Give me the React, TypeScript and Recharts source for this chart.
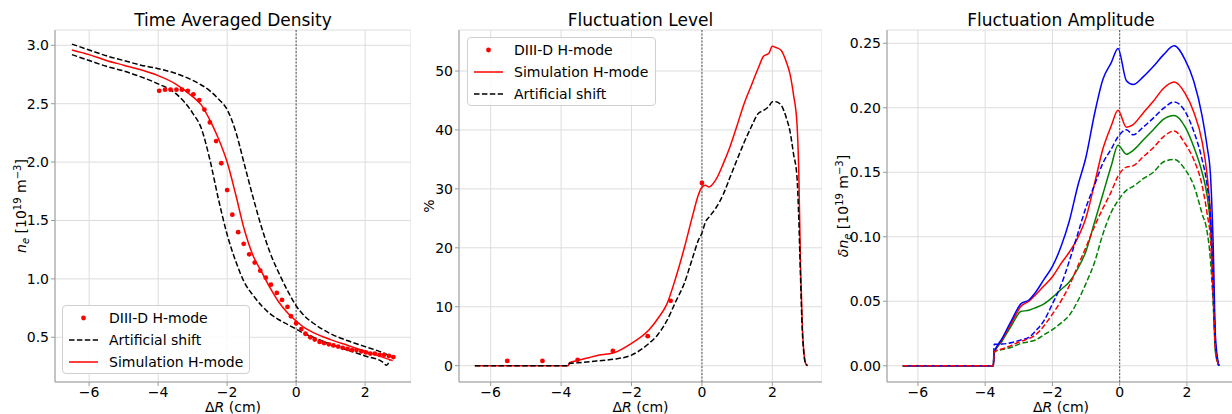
import type { ReactNode } from "react";
import { ComposedChart, Line, XAxis, YAxis, CartesianGrid, ReferenceLine } from "recharts";

const FONT = '"DejaVu Sans", "Liberation Sans", sans-serif';
const RED = "#ff0000";
const BLUE = "#0000ff";
const GREEN = "#008000";
const BLACK = "#000000";
const GRID = "#dddddd";
const SPINE = "#9a9a9a";
const DASH = "5.5 2.4";

const xTicks = [-6, -4, -2, 0, 2];

// --- Time Averaged Density ---
const densX = [-6.5, -6, -5.5, -5, -4.5, -4, -3.5, -3, -2.75, -2.5, -2.25, -2, -1.75, -1.5, -1.25, -1, -0.75, -0.5, -0.25, 0, 0.25, 0.5, 1, 1.5, 2, 2.5, 2.62, 2.72, 2.8];
const densSim = [2.96, 2.92, 2.87, 2.83, 2.79, 2.74, 2.67, 2.56, 2.49, 2.36, 2.2, 2.0, 1.72, 1.42, 1.2, 1.06, 0.92, 0.8, 0.71, 0.64, 0.58, 0.54, 0.48, 0.43, 0.38, 0.33, null, null, 0.3];
const densShiftOut = [3.01, 2.96, 2.91, 2.87, 2.83, 2.8, 2.76, 2.7, 2.66, 2.61, 2.54, 2.45, 2.26, 1.98, 1.7, 1.44, 1.22, 1.05, 0.9, 0.77, 0.68, 0.62, 0.53, 0.47, 0.42, 0.37, null, null, 0.33];
const densShiftIn = [2.92, 2.87, 2.82, 2.78, 2.73, 2.67, 2.59, 2.42, 2.29, 2.02, 1.68, 1.38, 1.15, 0.97, 0.86, 0.77, 0.7, 0.65, 0.61, 0.57, 0.53, 0.5, 0.44, 0.39, 0.34, 0.29, 0.26, 0.31, null];
const densExpX = [-3.97, -3.8, -3.64, -3.47, -3.31, -3.14, -2.98, -2.81, -2.66, -2.5, -2.32, -2.17, -2.0, -1.85, -1.68, -1.52, -1.36, -1.2, -1.04, -0.88, -0.73, -0.56, -0.41, -0.25, -0.15, 0.0, 0.15, 0.27, 0.41, 0.54, 0.68, 0.81, 0.95, 1.08, 1.22, 1.35, 1.49, 1.62, 1.75, 1.89, 2.02, 2.15, 2.28, 2.42, 2.55, 2.69, 2.82];
const densExpY = [2.61, 2.62, 2.62, 2.62, 2.62, 2.61, 2.58, 2.53, 2.45, 2.34, 2.18, 1.99, 1.76, 1.55, 1.4, 1.3, 1.21, 1.14, 1.07, 1.01, 0.95, 0.88, 0.82, 0.76, 0.68, 0.62, 0.57, 0.53, 0.5, 0.48, 0.46, 0.45, 0.44, 0.43, 0.42, 0.41, 0.4, 0.39, 0.39, 0.38, 0.37, 0.36, 0.36, 0.35, 0.35, 0.34, 0.33];
const densTicks = [0.5, 1.0, 1.5, 2.0, 2.5, 3.0];

// --- Fluctuation Level ---
const levelX = [-6.45, -3.8, -3.76, -3.5, -3, -2.5, -2, -1.5, -1.25, -1, -0.75, -0.5, -0.25, -0.1, 0, 0.1, 0.2, 0.4, 0.6, 0.8, 1, 1.2, 1.4, 1.6, 1.75, 1.9, 2, 2.1, 2.25, 2.4, 2.5, 2.6, 2.7, 2.75, 2.8, 2.85, 2.9, 2.95, 3.0];
const levelSim = [0, 0, 0.5, 0.9, 1.7, 2.2, 3.8, 6.1, 8.0, 10.4, 14.8, 20.0, 25.8, 29.0, 30.3, 30.6, 30.3, 31.6, 34.2, 37.2, 40.8, 44.5, 47.5, 50.5, 52.5, 53.0, 54.2, 54.0, 53.5, 51.5, 49.5, 46.0, 41.0, 33.0, 17.0, 7.0, 2.0, 0.3, 0];
const levelShift = [0, 0, 0.4, 0.5, 0.8, 1.1, 1.8, 3.8, 5.3, 7.6, 10.8, 14.0, 18.6, 21.3, 22.5, 24.4, 25.2, 26.8, 29.0, 32.0, 35.0, 37.9, 40.5, 42.8, 43.3, 44.0, 44.8, 44.8, 44.2, 42.0, 39.8, 36.0, 32.0, 25.0, 15.0, 6.0, 1.8, 0.3, 0];
const levelExpX = [-5.53, -4.53, -3.53, -2.53, -1.54, -0.89, 0.0];
const levelExpY = [0.8, 0.8, 1.0, 2.5, 5.0, 11.0, 31.0];
const levelTicks = [0, 10, 20, 30, 40, 50];

// --- Fluctuation Amplitude ---
const ampX = [-6.45, -3.76, -3.73, -3.5, -3.2, -2.94, -2.7, -2.5, -2.25, -2, -1.75, -1.5, -1.25, -1, -0.75, -0.5, -0.25, -0.05, 0.2, 0.4, 0.7, 1.0, 1.3, 1.62, 1.95, 2.2, 2.45, 2.6, 2.7, 2.78, 2.85, 2.95];
const ampBlue = [0, 0, 0.010, 0.021, 0.036, 0.048, 0.051, 0.057, 0.067, 0.077, 0.092, 0.112, 0.139, 0.162, 0.195, 0.222, 0.235, 0.246, 0.221, 0.218, 0.224, 0.232, 0.241, 0.248, 0.237, 0.221, 0.194, 0.170, 0.148, 0.095, 0.022, 0];
const ampRed = [0, 0, 0.010, 0.020, 0.034, 0.046, 0.050, 0.055, 0.062, 0.069, 0.079, 0.088, 0.099, 0.115, 0.141, 0.168, 0.186, 0.198, 0.185, 0.187, 0.196, 0.205, 0.215, 0.220, 0.211, 0.197, 0.174, 0.148, 0.118, 0.070, 0.015, 0];
const ampGreen = [0, 0, 0.010, 0.019, 0.032, 0.042, 0.043, 0.045, 0.048, 0.053, 0.059, 0.065, 0.075, 0.089, 0.111, 0.133, 0.155, 0.171, 0.164, 0.167, 0.175, 0.183, 0.191, 0.194, 0.185, 0.170, 0.150, 0.132, 0.108, 0.065, 0.014, 0];
const ampBlueDash = [0, 0, 0.0166, 0.0168, 0.018, 0.020, 0.022, 0.027, 0.035, 0.048, 0.062, 0.081, 0.102, 0.123, 0.140, 0.157, 0.168, 0.1775, 0.183, 0.179, 0.185, 0.192, 0.1995, 0.2045, 0.197, 0.182, 0.160, 0.140, 0.115, 0.060, 0.015, 0];
const ampRedDash = [0, 0, 0.011, 0.013, 0.016, 0.019, 0.021, 0.024, 0.031, 0.040, 0.050, 0.062, 0.077, 0.092, 0.108, 0.122, 0.135, 0.147, 0.154, 0.155, 0.162, 0.169, 0.1775, 0.182, 0.172, 0.160, 0.140, 0.118, 0.098, 0.055, 0.012, 0];
const ampGreenDash = [0, 0, 0.011, 0.0125, 0.0145, 0.0173, 0.0185, 0.020, 0.024, 0.028, 0.033, 0.039, 0.050, 0.064, 0.080, 0.102, 0.119, 0.128, 0.136, 0.139, 0.145, 0.150, 0.158, 0.160, 0.152, 0.140, 0.118, 0.104, 0.082, 0.048, 0.010, 0];
const ampTicks = [0, 0.05, 0.1, 0.15, 0.2, 0.25];

const zip = (xs: number[], ys: (number | null)[]) => xs.map((x, i) => ({ x, y: ys[i] }));
const fmtX = (v: number) => (v < 0 ? `\u2212${-v}` : `${v}`);

type LegendItem = { label: string; kind: "dot" | "solid" | "dashed"; color: string };

function LegendBox({ items, left, top, width }: { items: LegendItem[]; left: number; top: number; width: number }) {
  return (
    <div
      style={{
        position: "absolute", left, top, width, height: 69, boxSizing: "border-box",
        border: "1px solid #d0d0d0", borderRadius: 4, background: "rgba(255,255,255,0.85)",
        fontFamily: FONT, fontSize: 14, color: "#000",
      }}
    >
      {items.map((it, i) => (
        <div key={it.label} style={{ position: "absolute", left: 0, top: 1 + i * 22, height: 22, width: "100%" }}>
          <svg width={40} height={22} style={{ position: "absolute", left: 0, top: 0 }}>
            {it.kind === "dot" ? (
              <circle cx={20.5} cy={11} r={2.4} fill={it.color} />
            ) : (
              <line x1={6} x2={35} y1={11} y2={11} stroke={it.color} strokeWidth={1.5}
                strokeDasharray={it.kind === "dashed" ? DASH : undefined} />
            )}
          </svg>
          <span style={{ position: "absolute", left: 46, top: 0, lineHeight: "22px", whiteSpace: "nowrap" }}>{it.label}</span>
        </div>
      ))}
    </div>
  );
}

interface PanelProps {
  left: number;
  width: number;
  yAxisWidth: number;
  xDomain: [number, number];
  yDomain: [number, number];
  yTicks: number[];
  yFormat: (v: number) => string;
  title: string;
  yLabel: ReactNode;
  children: ReactNode;
}

function Panel({ left, width, yAxisWidth, xDomain, yDomain, yTicks, yFormat, title, yLabel, children }: PanelProps) {
  const plotW = width - yAxisWidth;
  const cx = yAxisWidth + plotW / 2;
  return (
    <div style={{ position: "absolute", left, top: 0, width, height: 414 }}>
      <ComposedChart width={width} height={414} margin={{ top: 30, right: 0, bottom: 0, left: 0 }}>
        <CartesianGrid stroke={GRID} strokeWidth={1} />
        <XAxis
          dataKey="x" type="number" domain={xDomain} allowDataOverflow ticks={xTicks} interval={0}
          tickFormatter={fmtX} tick={{ fill: "#000", fontSize: 14 }} tickSize={4} tickMargin={1}
          tickLine={{ stroke: SPINE }} axisLine={{ stroke: SPINE }} height={32}
          label={{
            content: () => (
              <text x={cx} y={412} textAnchor="middle" fontSize={14} fill="#000">
                {"\u0394"}<tspan fontStyle="italic">R</tspan> (cm)
              </text>
            ),
          }}
        />
        <XAxis
          xAxisId="top" orientation="top" type="number" domain={xDomain} allowDataOverflow height={0}
          tick={false} tickLine={false} axisLine={{ stroke: SPINE }}
        />
        <YAxis
          type="number" domain={yDomain} allowDataOverflow ticks={yTicks} interval={0}
          tickFormatter={yFormat} width={yAxisWidth} tick={{ fill: "#000", fontSize: 14 }} tickSize={4}
          tickLine={{ stroke: SPINE }} axisLine={{ stroke: SPINE }}
          label={{
            content: () => (
              <g>
                {yLabel}
                <text x={cx} y={26} textAnchor="middle" fontSize={17} fill="#000">{title}</text>
              </g>
            ),
          }}
        />
        <YAxis
          yAxisId="right" orientation="right" type="number" domain={yDomain} allowDataOverflow width={0}
          tick={false} tickLine={false} axisLine={{ stroke: SPINE }}
        />
        <ReferenceLine x={0} stroke="#555" strokeWidth={1} strokeDasharray="2 1.5" />
        {children}
      </ComposedChart>
    </div>
  );
}

const ylabNe = (
  <text x={26} y={206} transform="rotate(-90 26 206)" textAnchor="middle" fontSize={14} fill="#000">
    <tspan fontStyle="italic">n</tspan>
    <tspan fontStyle="italic" fontSize={10} dy={3}>e</tspan>
    <tspan dy={-3}> [10</tspan>
    <tspan fontSize={10} dy={-5}>19</tspan>
    <tspan dy={5}> m</tspan>
    <tspan fontSize={10} dy={-5}>{"\u22123"}</tspan>
    <tspan dy={5}>]</tspan>
  </text>
);

const ylabPct = (
  <text x={23} y={206} transform="rotate(-90 23 206)" textAnchor="middle" fontSize={14} fill="#000">%</text>
);

const ylabDne = (
  <text x={26} y={206} transform="rotate(-90 26 206)" textAnchor="middle" fontSize={14} fill="#000">
    <tspan fontStyle="italic">{"\u03B4n"}</tspan>
    <tspan fontStyle="italic" fontSize={10} dy={3}>e</tspan>
    <tspan dy={-3}> [10</tspan>
    <tspan fontSize={10} dy={-5}>19</tspan>
    <tspan dy={5}> m</tspan>
    <tspan fontSize={10} dy={-5}>{"\u22123"}</tspan>
    <tspan dy={5}>]</tspan>
  </text>
);

const dotStyle = { r: 2.4, fill: RED, stroke: "none" };

export default function App() {
  const ampSeries: [number[], string, boolean][] = [
    [ampGreen, GREEN, false],
    [ampRed, RED, false],
    [ampBlue, BLUE, false],
    [ampGreenDash, GREEN, true],
    [ampBlueDash, BLUE, true],
    [ampRedDash, RED, true],
  ];
  return (
    <div style={{ position: "absolute", left: 0, top: 0, width: 1232, height: 414, overflow: "hidden", background: "#fff", fontFamily: FONT }}>
      <Panel left={0} width={411} yAxisWidth={55} xDomain={[-6.99, 3.33]} yDomain={[0.117, 3.131]}
        yTicks={densTicks} yFormat={(v) => v.toFixed(1)} title="Time Averaged Density" yLabel={ylabNe}>
        {[
          <Line key="exp" data={zip(densExpX, densExpY)} dataKey="y" stroke="none" dot={dotStyle} activeDot={false} isAnimationActive={false} />,
          <Line key="out" data={zip(densX, densShiftOut)} dataKey="y" type="monotone" stroke={BLACK} strokeWidth={1.5} strokeDasharray={DASH} dot={false} connectNulls isAnimationActive={false} />,
          <Line key="in" data={zip(densX, densShiftIn)} dataKey="y" type="monotone" stroke={BLACK} strokeWidth={1.5} strokeDasharray={DASH} dot={false} connectNulls isAnimationActive={false} />,
          <Line key="sim" data={zip(densX, densSim)} dataKey="y" type="monotone" stroke={RED} strokeWidth={1.5} dot={false} connectNulls isAnimationActive={false} />,
        ]}
      </Panel>
      <Panel left={411} width={411} yAxisWidth={48} xDomain={[-6.9, 3.41]} yDomain={[-2.77, 56.96]}
        yTicks={levelTicks} yFormat={(v) => `${v}`} title="Fluctuation Level" yLabel={ylabPct}>
        {[
          <Line key="exp" data={zip(levelExpX, levelExpY)} dataKey="y" stroke="none" dot={dotStyle} activeDot={false} isAnimationActive={false} />,
          <Line key="sim" data={zip(levelX, levelSim)} dataKey="y" type="monotone" stroke={RED} strokeWidth={1.5} dot={false} isAnimationActive={false} />,
          <Line key="shift" data={zip(levelX, levelShift)} dataKey="y" type="monotone" stroke={BLACK} strokeWidth={1.5} strokeDasharray={DASH} dot={false} isAnimationActive={false} />,
        ]}
      </Panel>
      <Panel left={822} width={413} yAxisWidth={65} xDomain={[-6.92, 3.43]} yDomain={[-0.0126, 0.2603]}
        yTicks={ampTicks} yFormat={(v) => v.toFixed(2)} title="Fluctuation Amplitude" yLabel={ylabDne}>
        {ampSeries.map(([ys, color, dashed], i) => (
          <Line key={`amp${i}`} data={zip(ampX, ys)} dataKey="y" type="monotone" stroke={color} strokeWidth={1.5}
            strokeDasharray={dashed ? DASH : undefined} dot={false} isAnimationActive={false} />
        ))}
      </Panel>
      <LegendBox left={62} top={305} width={188} items={[
        { label: "DIII-D H-mode", kind: "dot", color: RED },
        { label: "Artificial shift", kind: "dashed", color: BLACK },
        { label: "Simulation H-mode", kind: "solid", color: RED },
      ]} />
      <LegendBox left={467} top={37} width={189} items={[
        { label: "DIII-D H-mode", kind: "dot", color: RED },
        { label: "Simulation H-mode", kind: "solid", color: RED },
        { label: "Artificial shift", kind: "dashed", color: BLACK },
      ]} />
    </div>
  );
}
